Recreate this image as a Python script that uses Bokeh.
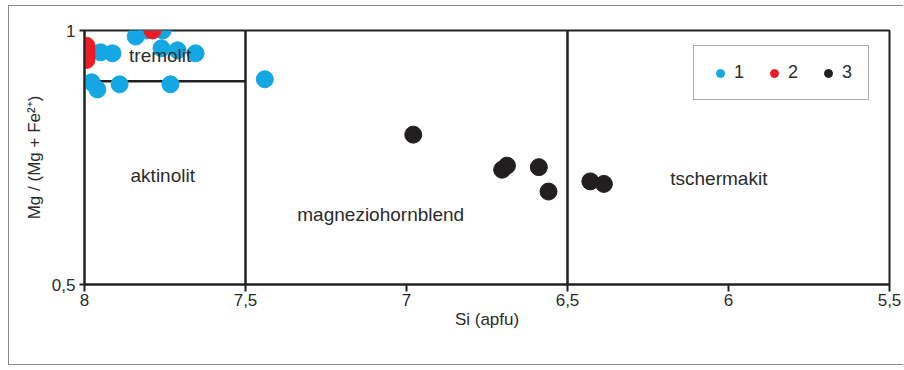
from bokeh.plotting import figure
from bokeh.models import Range1d, FixedTicker, Legend, LegendItem
from bokeh.core.properties import value
from bokeh.embed import file_html
from bokeh.resources import INLINE

# ---- data ----
si_1 = [7.950, 7.913, 7.841, 7.807, 7.757, 7.761, 7.711, 7.655, 7.978, 7.960, 7.891, 7.733, 7.440]
mg_1 = [0.957, 0.955, 0.988, 1.000, 1.000, 0.965, 0.961, 0.955, 0.898, 0.884, 0.894, 0.894, 0.904]
si_2 = [7.789, 7.994, 7.994, 7.994, 7.994, 7.994]
mg_2 = [1.000, 0.970, 0.963, 0.955, 0.948, 0.942]
si_3 = [6.979, 6.703, 6.688, 6.589, 6.559, 6.429, 6.387]
mg_3 = [0.795, 0.726, 0.734, 0.731, 0.683, 0.703, 0.698]

series_labels = ["1", "2", "3"]
series_colors = ["#13a8e4", "#ec1c24", "#231f20"]

field_names = ["tremolit", "aktinolit", "magneziohornblend", "tschermakit"]
field_si = [7.765, 7.757, 7.08, 6.03]
field_mg = [0.951, 0.715, 0.638, 0.709]

# field boundaries (Si from, Si to, Mg from, Mg to)
bound_x0 = [8.0, 7.5, 6.5]
bound_x1 = [7.5, 7.5, 6.5]
bound_y0 = [0.9, 0.5, 0.5]
bound_y1 = [0.9, 1.0, 1.0]

x_ticks = [8, 7.5, 7, 6.5, 6, 5.5]
x_tick_labels = ["8", "7,5", "7", "6,5", "6", "5,5"]
y_ticks = [0.5, 1]
y_tick_labels = ["0,5", "1"]

FONT = "Liberation Sans"
TXT = "#2b2b2b"

p = figure(width=895, height=360, output_backend="svg", toolbar_location=None,
           x_range=Range1d(8, 5.5), y_range=Range1d(0.5, 1.0),
           min_border_left=75, min_border_right=15, min_border_top=24, min_border_bottom=82)
p.styles = {"margin-left": "8px", "margin-top": "5px",
            "border-left": "1px solid #8a8a8a", "border-top": "1px solid #8a8a8a",
            "border-bottom": "1px solid #8a8a8a"}
p.xgrid.visible = False
p.ygrid.visible = False
p.outline_line_color = "#222222"
p.outline_line_width = 2
p.outline_line_alpha = 1

for ax in (p.xaxis[0], p.yaxis[0]):
    ax.axis_line_color = "#222222"
    ax.axis_line_width = 2
    ax.major_tick_line_color = "#222222"
    ax.major_tick_line_width = 2
    ax.major_tick_out = 7
    ax.major_tick_in = 0
    ax.minor_tick_line_color = None
    ax.major_label_text_font = FONT
    ax.major_label_text_font_size = "17px"
    ax.major_label_text_color = TXT
    ax.axis_label_text_font = FONT
    ax.axis_label_text_font_size = "17px"
    ax.axis_label_text_font_style = "normal"
    ax.axis_label_text_color = TXT

p.xaxis.ticker = FixedTicker(ticks=x_ticks)
p.xaxis.major_label_overrides = {t: l for t, l in zip(x_ticks, x_tick_labels)}
p.xaxis.axis_label = "Si (apfu)"
p.xaxis.major_label_standoff = 2
p.xaxis.axis_label_standoff = 1
p.yaxis.ticker = FixedTicker(ticks=y_ticks)
p.yaxis.major_label_overrides = {t: l for t, l in zip(y_ticks, y_tick_labels)}
p.yaxis.axis_label = "Mg / (Mg + Fe²⁺)"
p.yaxis.major_label_standoff = 4
p.yaxis.axis_label_standoff = 5
p.yaxis.major_tick_out = 5

p.segment(x0=bound_x0, y0=bound_y0, x1=bound_x1, y1=bound_y1,
          line_color="#222222", line_width=2.5)

size = 17
p.scatter(si_1, mg_1, size=size, color=series_colors[0])
p.scatter(si_3, mg_3, size=size, color=series_colors[2])
p.scatter(si_2, mg_2, size=size, color=series_colors[1])

p.text(x=field_si, y=field_mg, text=field_names, text_font=value(FONT),
       text_font_size="19px", text_color=TXT, text_align="center", text_baseline="middle")

nan = float("nan")
items = []
for lab, col in zip(series_labels, series_colors):
    r = p.scatter(x=[nan], y=[nan], size=14, color=col)
    items.append(LegendItem(label=lab, renderers=[r]))
legend = Legend(items=items, orientation="horizontal", location=(609, 184),
                padding=16, spacing=20, glyph_width=20, glyph_height=20, label_standoff=4,
                label_width=9, label_height=20,
                label_text_font=FONT, label_text_font_size="18px", label_text_color=TXT,
                border_line_color="#555555", border_line_width=1.2,
                background_fill_alpha=1, margin=0)
p.add_layout(legend, "center")

open("out.html", "w").write(file_html(p, INLINE))
